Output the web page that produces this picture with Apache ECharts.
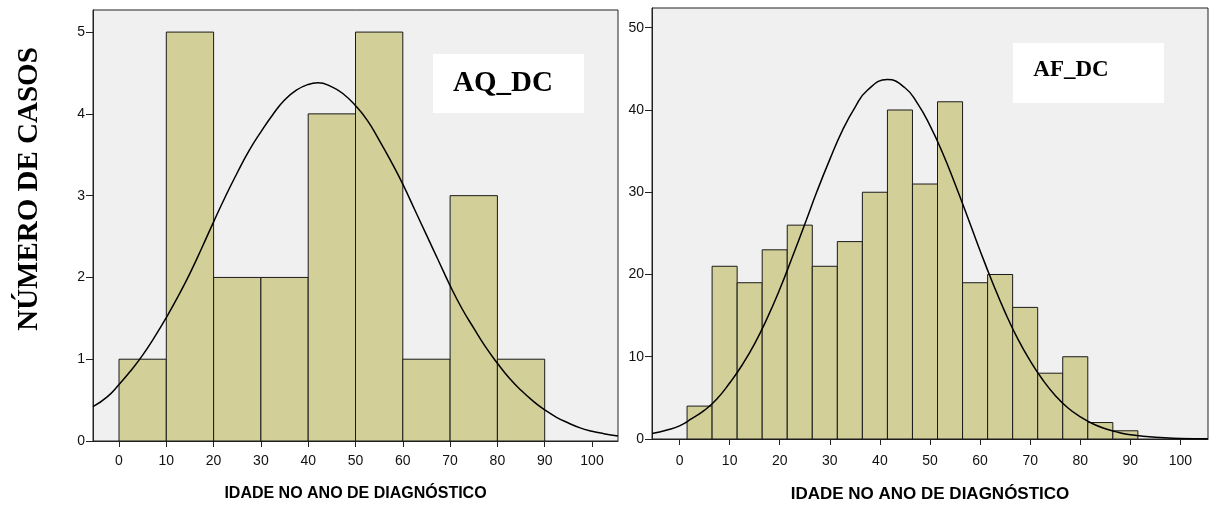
<!DOCTYPE html>
<html>
<head>
<meta charset="utf-8">
<script src="https://cdn.jsdelivr.net/npm/echarts@6/dist/echarts.min.js"></script>
<style>
  html, body { margin: 0; padding: 0; background: #fff; }
  #chart { width: 1210px; height: 508px; }
</style>
</head>
<body>
<div id="chart"></div>
<script>
// histogram bins (edges) and counts
const aqEdges = [0, 10, 20, 30, 40, 50, 60, 70, 80, 90];
const aqCounts = [1, 5, 2, 2, 4, 5, 1, 3, 1];
const afEdges = [1.5, 6.5, 11.5, 16.5, 21.5, 26.5, 31.5, 36.5, 41.5, 46.5, 51.5, 56.5, 61.5, 66.5, 71.5, 76.5, 81.5, 86.5, 91.5];
const afCounts = [4, 21, 19, 23, 26, 21, 24, 30, 40, 31, 41, 19, 20, 16, 8, 10, 2, 1];

// normal curves
const aqCurveX = [-5.5, -2.5, 0, 2.5, 5, 7.5, 10, 12.5, 15, 17.5, 20, 22.5, 25, 27.5, 30, 32.5, 35, 37.5, 40, 42, 45, 47.5, 50, 52.5, 55, 57.5, 60, 62.5, 65, 67.5, 70, 72.5, 75, 77.5, 80, 82.5, 85, 87.5, 90, 92.5, 95, 97.5, 100, 102.5, 105.5];
const aqCurve = [0.42, 0.54, 0.69, 0.86, 1.05, 1.27, 1.51, 1.77, 2.05, 2.36, 2.68, 2.99, 3.28, 3.55, 3.78, 3.99, 4.17, 4.29, 4.36, 4.38, 4.33, 4.24, 4.10, 3.92, 3.68, 3.42, 3.14, 2.83, 2.52, 2.21, 1.90, 1.62, 1.38, 1.15, 0.95, 0.77, 0.62, 0.49, 0.38, 0.29, 0.22, 0.16, 0.12, 0.09, 0.06];
const afCurveX = [-5.5, -2.5, 0, 2.5, 5, 7.5, 10, 12.5, 15, 17.5, 20, 22.5, 25, 27.5, 30, 32.5, 35, 37.5, 41.5, 45, 47.5, 50, 52.5, 55, 57.5, 60, 62.5, 65, 67.5, 70, 72.5, 75, 77.5, 80, 82.5, 85, 87.5, 90, 95, 100, 105.5];
const afCurve = [0.68, 1.1, 1.6, 2.5, 3.5, 4.9, 6.8, 9.0, 11.6, 14.7, 18.2, 22.1, 26.1, 30.2, 34.0, 37.5, 40.3, 42.4, 43.7, 42.7, 40.8, 38.1, 34.8, 31.0, 27.0, 22.9, 19.0, 15.4, 12.2, 9.5, 7.2, 5.3, 3.8, 2.7, 1.85, 1.24, 0.82, 0.52, 0.2, 0.07, 0.02];

const xTicks = [0, 10, 20, 30, 40, 50, 60, 70, 80, 90, 100];
const aqYTicks = [0, 1, 2, 3, 4, 5];
const afYTicks = [0, 10, 20, 30, 40, 50];

const xTitle = 'IDADE NO ANO DE DIAGNÓSTICO';

function binData(edges, counts) {
  return counts.map((c, i) => [edges[i], edges[i + 1], c]);
}
function pairs(xs, ys) {
  return xs.map((x, i) => [x, ys[i]]);
}

function renderBin(params, api) {
  const p0 = api.coord([api.value(0), api.value(2)]);
  const p1 = api.coord([api.value(1), 0]);
  return {
    type: 'rect',
    shape: { x: p0[0], y: p0[1], width: p1[0] - p0[0], height: p1[1] - p0[1] },
    style: { fill: '#d3cf98', stroke: '#1a1a1a', lineWidth: 1 }
  };
}

const labelFont = { color: '#111', fontFamily: 'Liberation Sans', fontSize: 14 };

function xAxisFor(gridIndex, nameSize, nameGap, labelMargin) {
  return {
    type: 'value', gridIndex: gridIndex, min: -5.5, max: 105.5,
    name: xTitle, nameLocation: 'middle', nameGap: nameGap,
    nameTextStyle: { color: '#000', fontFamily: 'Liberation Sans', fontWeight: 'bold', fontSize: nameSize },
    axisLine: { show: true, onZero: false, lineStyle: { color: '#222', width: 1 } },
    axisTick: { show: true, length: 6, customValues: xTicks, lineStyle: { color: '#222' } },
    axisLabel: Object.assign({ customValues: xTicks, margin: labelMargin }, labelFont),
    splitLine: { show: false }
  };
}
function yAxisFor(gridIndex, max, ticks) {
  return {
    type: 'value', gridIndex: gridIndex, min: 0, max: max,
    axisLine: { show: true, onZero: false, lineStyle: { color: '#222', width: 1 } },
    axisTick: { show: true, length: 7, customValues: ticks, lineStyle: { color: '#222' } },
    axisLabel: Object.assign({ customValues: ticks, margin: 8 }, labelFont),
    splitLine: { show: false }
  };
}

const chart = echarts.init(document.getElementById('chart'), null, { renderer: 'canvas' });
chart.setOption({
  backgroundColor: '#fff',
  animation: false,
  grid: [
    { left: 93, top: 10, width: 525, height: 431, show: true, backgroundColor: '#f0f0f0', borderColor: '#222', borderWidth: 1 },
    { left: 652, top: 8, width: 556, height: 437, show: true, backgroundColor: '#f0f0f0', borderColor: '#222', borderWidth: 1 }
  ],
  xAxis: [xAxisFor(0, 16, 45, 13), xAxisFor(1, 17, 47, 15)],
  yAxis: [yAxisFor(0, 5.27, aqYTicks), yAxisFor(1, 52.4, afYTicks)],
  series: [
    { type: 'custom', xAxisIndex: 0, yAxisIndex: 0, renderItem: renderBin, encode: { x: [0, 1], y: 2 }, data: binData(aqEdges, aqCounts) },
    { type: 'line', xAxisIndex: 0, yAxisIndex: 0, smooth: true, symbol: 'none', lineStyle: { color: '#000', width: 1.5 }, data: pairs(aqCurveX, aqCurve), z: 3 },
    { type: 'custom', xAxisIndex: 1, yAxisIndex: 1, renderItem: renderBin, encode: { x: [0, 1], y: 2 }, data: binData(afEdges, afCounts) },
    { type: 'line', xAxisIndex: 1, yAxisIndex: 1, smooth: true, symbol: 'none', lineStyle: { color: '#000', width: 1.5 }, data: pairs(afCurveX, afCurve), z: 3 }
  ],
  graphic: [
    { type: 'text', x: 30, y: 189, rotation: Math.PI / 2,
      style: { text: 'NÚMERO DE CASOS', fill: '#000', font: 'bold 29px "Liberation Serif"', align: 'center', verticalAlign: 'middle' } },
    { type: 'rect', shape: { x: 433, y: 54, width: 151, height: 59 }, style: { fill: '#fff' }, z: 10 },
    { type: 'text', x: 503, y: 84, z: 11,
      style: { text: 'AQ_DC', fill: '#000', font: 'bold 29px "Liberation Serif"', align: 'center', verticalAlign: 'middle' } },
    { type: 'rect', shape: { x: 1013, y: 43, width: 151, height: 60 }, style: { fill: '#fff' }, z: 10 },
    { type: 'text', x: 1071, y: 70, z: 11,
      style: { text: 'AF_DC', fill: '#000', font: 'bold 23px "Liberation Serif"', align: 'center', verticalAlign: 'middle' } }
  ]
});
</script>
</body>
</html>
